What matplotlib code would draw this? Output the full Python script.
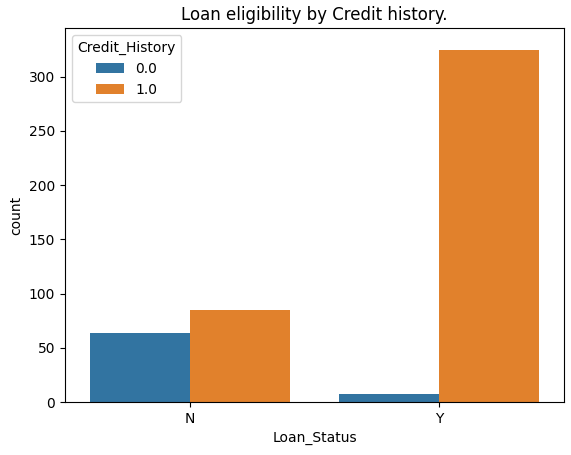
import matplotlib
matplotlib.use("Agg")
import matplotlib.pyplot as plt
import numpy as np

loan_status = ["N", "Y"]
credit_history = ["0.0", "1.0"]
counts_0 = [64, 7]
counts_1 = [85, 325]
colors = ["#3274a1", "#e1812c"]

fig = plt.figure(figsize=(5.71, 4.55), dpi=100)
ax = fig.add_axes([65 / 571, 53 / 455, 499 / 571, 374 / 455])

x = np.arange(len(loan_status))
width = 0.4
ax.bar(x - width / 2, counts_0, width, color=colors[0], label=credit_history[0])
ax.bar(x + width / 2, counts_1, width, color=colors[1], label=credit_history[1])

ax.set_xticks(x)
ax.set_xticklabels(loan_status)
ax.set_xlim(-0.5, 1.5)
ax.set_ylim(0, 345)
ax.set_xlabel("Loan_Status")
ax.set_ylabel("count")
ax.set_title("Loan eligibility by Credit history.")
ax.legend(title="Credit_History", loc="upper left")

fig.savefig("out.png", dpi=100)
